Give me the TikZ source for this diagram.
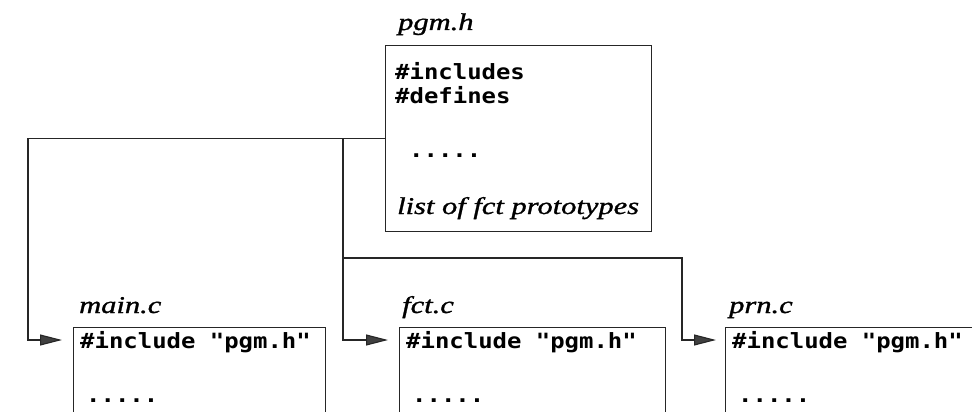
\documentclass[tikz,border=0pt]{standalone}
\usepackage{fontspec}
\usetikzlibrary{arrows.meta}
\newfontface\codefont{DejaVu Sans Mono Bold}[FakeStretch=1.14]
\newfontface\labfont{Liberation Serif Italic}[FakeStretch=1.27,FakeBold=1.2]
\begin{document}
\begin{tikzpicture}[x=1pt,y=-1pt,
  box/.style={draw=black!85, line width=1pt, inner sep=0pt, anchor=north west},
  conn/.style={draw=black!85, line width=1.1pt},
  arr/.style={conn, -{Triangle[length=22pt,width=11pt,fill=black!75]}},
  code/.style={inner sep=0pt, anchor=base west, font=\codefont\fontsize{21}{24}\selectfont},
  lab/.style={inner sep=0pt, anchor=base west, font=\labfont\fontsize{24}{28}\selectfont}]
\useasboundingbox (0,0) rectangle (972,412);
\clip (0,0) rectangle (972,412);
% boxes
\node[box, minimum width=266pt, minimum height=186pt] (pgm) at (385,45) {};
\node[box, minimum width=252pt, minimum height=120pt] (main) at (73,327) {};
\node[box, minimum width=266pt, minimum height=120pt] (fct) at (399,327) {};
\node[box, minimum width=300pt, minimum height=120pt] (prn) at (725,327) {};
% pgm.h texts
\node[lab] (pgmlab) at (398,30) {pgm.h};
\node[code] (inc) at (395,80) {\#includes};
\node[code] (def) at (395,103) {\#defines};
\node[code] (pdots) at (395,157) {\hspace{14pt}.....};
\node[lab] (proto) at (397,214) {list of fct prototypes};
% main.c
\node[lab] (mainlab) at (79,313) {main.c};
\node[code] (minc) at (80,348) {\#include "pgm.h"};
\node[code] (mdots) at (80,402) {\hspace{6pt}.....};
% fct.c
\node[lab] (fctlab) at (402,313) {fct.c};
\node[code] (finc) at (406,348) {\#include "pgm.h"};
\node[code] (fdots) at (406,402) {\hspace{6pt}.....};
% prn.c
\node[lab] (prnlab) at (729,313) {prn.c};
\node[code] (pinc) at (732,348) {\#include "pgm.h"};
\node[code] (pdots2) at (732,402) {\hspace{6pt}.....};
% connectors
\coordinate (ja) at (343,138);
\coordinate (jb) at (343,258);
\coordinate (mtip) at (62,340);
\coordinate (ftip) at (388,340);
\coordinate (ptip) at (716,340);
\draw[arr] (pgm.west) -| (28,340) -- (mtip);
\draw[arr] (ja) |- (ftip);
\draw[arr] (jb) -| (682,340) -- (ptip);
\end{tikzpicture}
\end{document}
